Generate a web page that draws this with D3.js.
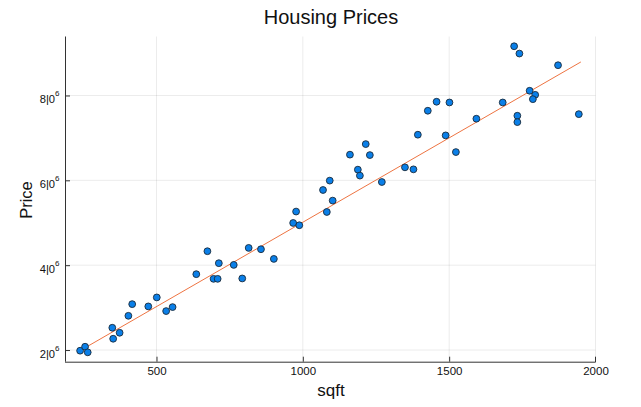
<!DOCTYPE html>
<html>
<head>
<meta charset="utf-8">
<script src="https://cdn.jsdelivr.net/npm/d3@7"></script>
<style>
  html, body { margin: 0; padding: 0; background: #fff; }
  svg { display: block; font-family: "Liberation Sans", Arial, sans-serif; }
</style>
</head>
<body>
<svg id="chart" width="641" height="407"></svg>
<script>
const title = "Housing Prices";
const xLabel = "sqft";
const yLabel = "Price";

const sqft = [239, 256, 265, 349, 352, 374, 404, 417, 472, 501, 533, 555, 636, 674, 713, 695, 709, 764, 793, 815,
  857, 901, 977, 967, 988, 1069, 1092, 1102, 1082, 1161, 1215, 1229, 1188, 1195, 1270, 1349, 1378, 1393, 1427, 1457,
  1501, 1488, 1523, 1593, 1683, 1722, 1740, 1733, 1733, 1775, 1794, 1786, 1872, 1943];
const price = [1.984e6, 2.078e6, 1.946e6, 2.525e6, 2.266e6, 2.407e6, 2.807e6, 3.082e6, 3.028e6, 3.240e6, 2.918e6, 3.012e6,
  3.788e6, 4.329e6, 4.047e6, 3.678e6, 3.678e6, 4.007e6, 3.687e6, 4.407e6, 4.376e6, 4.148e6, 5.264e6, 4.995e6, 4.941e6,
  5.772e6, 5.993e6, 5.522e6, 5.254e6, 6.605e6, 6.854e6, 6.595e6, 6.252e6, 6.111e6, 5.960e6, 6.306e6, 6.259e6, 7.075e6,
  7.640e6, 7.852e6, 7.835e6, 7.059e6, 6.666e6, 7.452e6, 7.835e6, 9.160e6, 8.988e6, 7.522e6, 7.372e6, 8.111e6, 8.016e6,
  7.913e6, 8.713e6, 7.560e6];

// fitted (smooth) line endpoints
const fitSqft = [239, 1950];
const fitPrice = [1.986e6, 8.79e6];

const xTicks = [500, 1000, 1500, 2000];
const yTicks = [2e6, 4e6, 6e6, 8e6];
const yTickMantissa = ["2", "4", "6", "8"];

const svg = d3.select("#chart");
const pLeft = 65, pRight = 595.5, pTop = 36.5, pBottom = 361.7;

const x = d3.scaleLinear().domain([187.4, 2000]).range([pLeft, pRight]);
const y = d3.scaleLinear().domain([1.725e6, 9.39e6]).range([pBottom, pTop]);

// grid
svg.append("g").selectAll("line").data(xTicks).join("line")
  .attr("x1", d => x(d)).attr("x2", d => x(d))
  .attr("y1", pTop).attr("y2", pBottom)
  .attr("stroke", "#000").attr("stroke-opacity", 0.08).attr("stroke-width", 1);
svg.append("g").selectAll("line").data(yTicks).join("line")
  .attr("x1", pLeft).attr("x2", pRight)
  .attr("y1", d => y(d)).attr("y2", d => y(d))
  .attr("stroke", "#000").attr("stroke-opacity", 0.08).attr("stroke-width", 1);

// axes
const xAxis = d3.axisBottom(x).tickValues(xTicks).tickSize(-5).tickPadding(0).tickFormat(d3.format("d"));
const gx = svg.append("g").attr("transform", `translate(0,${pBottom})`).call(xAxis);
gx.select(".domain").attr("d", `M${pLeft},0.5H${pRight}V-5`).attr("stroke", "#333");
gx.selectAll(".tick line").attr("stroke", "#333");
gx.selectAll(".tick text").attr("y", 13.5).attr("dy", null)
  .attr("font-size", 11.5).attr("fill", "#111").attr("font-family", "Liberation Sans, Arial, sans-serif");
gx.selectAll(".tick").filter(d => d === 2000).select("line").remove();

const yAxis = d3.axisLeft(y).tickValues(yTicks).tickSize(-5).tickPadding(9).tickFormat("");
const gy = svg.append("g").attr("transform", `translate(${pLeft},0)`).call(yAxis);
gy.select(".domain").attr("d", `M0.5,${pTop}V${pBottom}`).attr("stroke", "#333");
gy.selectAll(".tick line").attr("stroke", "#333");
gy.selectAll(".tick").each(function(d, i) {
  const t = d3.select(this).append("text")
    .attr("x", -5.5).attr("y", 7).attr("text-anchor", "end")
    .attr("font-size", 11.2).attr("fill", "#111").attr("font-family", "Liberation Sans, Arial, sans-serif");
  t.append("tspan").text(yTickMantissa[i] + "|0");
  t.append("tspan").attr("dy", -6.5).attr("font-size", 8).text("6");
});

// fitted line
svg.append("path")
  .attr("d", d3.line().x(d => x(d[0])).y(d => y(d[1]))(d3.zip(fitSqft, fitPrice)))
  .attr("stroke", "#ee7442").attr("stroke-width", 1).attr("fill", "none");

// points
svg.append("g").selectAll("circle").data(sqft).join("circle")
  .attr("cx", d => x(d)).attr("cy", (d, i) => y(price[i]))
  .attr("r", 3.4)
  .attr("fill", "#0a7fe8").attr("stroke", "#1a2a3a").attr("stroke-width", 0.9);

// labels
svg.append("text").attr("x", 331).attr("y", 24).attr("text-anchor", "middle")
  .attr("font-size", 20).attr("fill", "#111").text(title);
svg.append("text").attr("x", 331).attr("y", 396).attr("text-anchor", "middle")
  .attr("font-size", 17).attr("fill", "#111").text(xLabel);
svg.append("text").attr("transform", "translate(31.5,200) rotate(-90)").attr("text-anchor", "middle")
  .attr("font-size", 16.5).attr("fill", "#111").text(yLabel);
</script>
</body>
</html>
